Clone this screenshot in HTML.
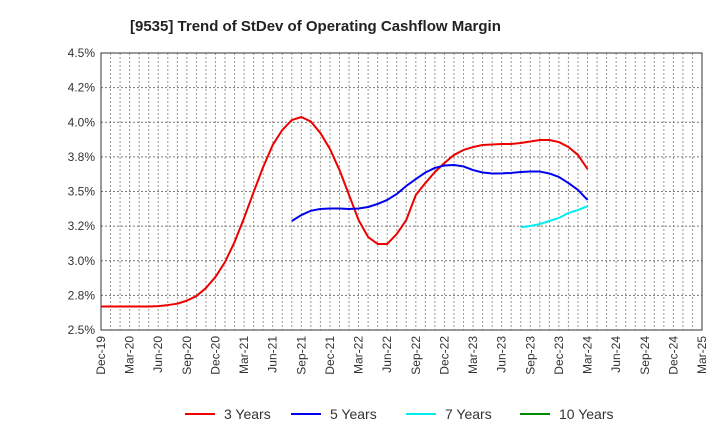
<!DOCTYPE html>
<html><head><meta charset="utf-8"><style>
body{margin:0;background:#fff;font-family:"Liberation Sans",sans-serif}
</style></head><body>
<svg id="chart" width="720" height="440" xmlns="http://www.w3.org/2000/svg" font-family="Liberation Sans, sans-serif">
<text x="130" y="31" font-size="15" font-weight="bold" fill="#222">[9535]  Trend of StDev of Operating Cashflow Margin</text>
<g id="grid"></g>
<g id="axes"></g>
<g id="series"></g>
<g id="legend"></g>
</svg>
<script>
const yTicks=[2.5,2.75,3.0,3.25,3.5,3.75,4.0,4.25,4.5];
const yTickLabels=["2.5%","2.8%","3.0%","3.2%","3.5%","3.8%","4.0%","4.2%","4.5%"];
const xTickLabels=["Dec-19","Mar-20","Jun-20","Sep-20","Dec-20","Mar-21","Jun-21","Sep-21","Dec-21","Mar-22","Jun-22","Sep-22","Dec-22","Mar-23","Jun-23","Sep-23","Dec-23","Mar-24","Jun-24","Sep-24","Dec-24","Mar-25"];
const years3=[2.67,2.67,2.67,2.67,2.67,2.67,2.672,2.68,2.69,2.712,2.745,2.803,2.883,2.991,3.135,3.309,3.496,3.677,3.836,3.944,4.016,4.038,4.005,3.922,3.807,3.655,3.475,3.294,3.171,3.121,3.121,3.193,3.294,3.475,3.561,3.641,3.706,3.764,3.8,3.821,3.836,3.839,3.843,3.843,3.85,3.861,3.872,3.872,3.857,3.821,3.764,3.662];
const years5Start=20;
const years5=[3.287,3.33,3.361,3.374,3.377,3.377,3.374,3.377,3.388,3.41,3.439,3.482,3.54,3.59,3.637,3.67,3.688,3.691,3.681,3.655,3.637,3.63,3.631,3.634,3.641,3.644,3.644,3.63,3.605,3.561,3.511,3.439];
const years7Start=44;
const years7=[3.242,3.251,3.265,3.287,3.309,3.345,3.366,3.395];
const years10=[];
const L=101,R=702,T=53,B=330,NM=63;
const xs=i=>L+(R-L)*i/NM;
const ys=v=>B-(v-2.5)/2*(B-T);
const NS="http://www.w3.org/2000/svg";
function mk(tag,attrs,parent){const e=document.createElementNS(NS,tag);for(const k in attrs)e.setAttribute(k,attrs[k]);parent.appendChild(e);return e;}
const grid=document.getElementById('grid'),axes=document.getElementById('axes'),series=document.getElementById('series'),legend=document.getElementById('legend');
for(let m=1;m<NM;m++){const l=mk('line',{x1:xs(m),x2:xs(m),y1:T,y2:B,stroke:'#999','stroke-dasharray':'2,2','stroke-width':1},grid);

}
yTicks.forEach((v,i)=>{if(i>0&&i<yTicks.length-1){const l=mk('line',{x1:L,x2:R,y1:ys(v),y2:ys(v),stroke:'#777','stroke-dasharray':'2,2','stroke-width':1},grid);

}
const t=mk('text',{x:L-6,y:ys(v)+4,'text-anchor':'end','font-size':12,fill:'#333'},axes);t.textContent=yTickLabels[i];

});
xTickLabels.forEach((s,i)=>{const x=xs(i*3);const t=mk('text',{x:0,y:0,transform:`translate(${x+4},${B+6}) rotate(-90)`,'text-anchor':'end','font-size':12,fill:'#333'},axes);t.textContent=s;

});
const frame=mk('rect',{x:L,y:T,width:R-L,height:B-T,fill:'none',stroke:'#333','stroke-width':1},axes);


function line(vals,start,color,name){if(!vals.length)return;const p=mk('polyline',{points:vals.map((v,i)=>xs(start+i)+','+ys(v)).join(' '),fill:'none',stroke:color,'stroke-width':2,'stroke-linejoin':'round'},series);

}
line(years3,0,'#ee0000','line-3-years');
line(years5,years5Start,'#0000ee','line-5-years');
line(years7,years7Start,'#00eeee','line-7-years');
line(years10,0,'#008800','line-10-years');
const leg=[["3 Years","#ee0000",185],["5 Years","#0000ee",291],["7 Years","#00eeee",406],["10 Years","#008800",520]];
leg.forEach(([s,c,x])=>{const g=mk('g',{},legend);


mk('line',{x1:x,x2:x+30,y1:414,y2:414,stroke:c,'stroke-width':2},g);
const t=mk('text',{x:x+39,y:419,'font-size':14,fill:'#333'},g);t.textContent=s;});
</script>
</body></html>
